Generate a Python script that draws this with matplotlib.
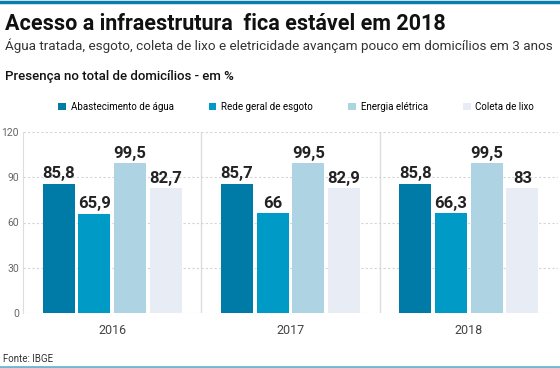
import numpy as np
import matplotlib.pyplot as plt
from matplotlib.lines import Line2D

years = ['2016', '2017', '2018']
series = ['Abastecimento de água', 'Rede geral de esgoto', 'Energia elétrica', 'Coleta de lixo']
agua = [85.8, 85.7, 85.8]
esgoto = [65.9, 66, 66.3]
energia = [99.5, 99.5, 99.5]
lixo = [82.7, 82.9, 83]
colors = ['#007BA7', '#009AC6', '#AED3E3', '#E8EDF5']

plt.rcParams['font.family'] = ['Roboto', 'DejaVu Sans']

fig = plt.figure(figsize=(5.6, 3.68), dpi=100)
ax = fig.add_axes([23 / 560, 1 - 313 / 368, 535 / 560, 181 / 368])

x = np.arange(len(years))
w = 0.2
for i, (vals, c, name) in enumerate(zip([agua, esgoto, energia, lixo], colors, series)):
    pos = x + (i - 1.5) * w
    ax.bar(pos, vals, width=w * 0.9, color=c, label=name, zorder=3)
    for p, v in zip(pos, vals):
        lab = ('%g' % v).replace('.', ',')
        ax.text(p, v + 1.5, lab, ha='center', va='bottom', fontsize=12,
                fontweight='bold', color='#222222', zorder=4)

ax.set_xlim(-0.5, 2.5)
ax.set_ylim(0, 120)
ax.set_yticks([0, 30, 60, 90, 120])
ax.set_xticks(x)
ax.set_xticklabels(years)
ax.tick_params(axis='y', length=0, labelsize=7.5, colors='#666666', pad=3)
ax.tick_params(axis='x', length=0, labelsize=9, colors='#444444', pad=8)
ax.grid(axis='y', color='#D5D5D5', linestyle=(0, (2, 2)), linewidth=0.8, zorder=0)
for s in ['top', 'right', 'bottom']:
    ax.spines[s].set_visible(False)
ax.spines['left'].set_color('#DDDDDD')
for sep in [0.5, 1.5]:
    ax.axvline(sep, color='#DDDDDD', linewidth=1, zorder=1)

ax.legend(loc='lower left', bbox_to_anchor=(0.058, 1.09), ncol=4, frameon=False,
          fontsize=7, handlelength=0.8, handleheight=0.8, handletextpad=0.5,
          columnspacing=3.6, borderaxespad=0)

fig.add_artist(Line2D([0, 1], [1 - 2 / 368, 1 - 2 / 368], color='#0A7DAA', linewidth=2.5))
fig.add_artist(Line2D([0, 1], [1.5 / 368, 1.5 / 368], color='#6CB8D4', linewidth=2))

fig.text(5 / 560, 1 - 30 / 368, 'Acesso a infraestrutura  fica estável em 2018',
         fontsize=15.5, fontweight='bold', color='#111111')
fig.text(5 / 560, 1 - 50 / 368,
         'Água tratada, esgoto, coleta de lixo e eletricidade avançam pouco em domicílios em 3 anos',
         fontsize=9.7, color='#333333')
fig.text(5 / 560, 1 - 80 / 368, 'Presença no total de domicílios - em %',
         fontsize=9.5, fontweight='medium', color='#111111')
fig.text(3 / 560, 1 - 362 / 368, 'Fonte: IBGE', fontsize=7, color='#333333')

fig.savefig('out.png', dpi=100)
